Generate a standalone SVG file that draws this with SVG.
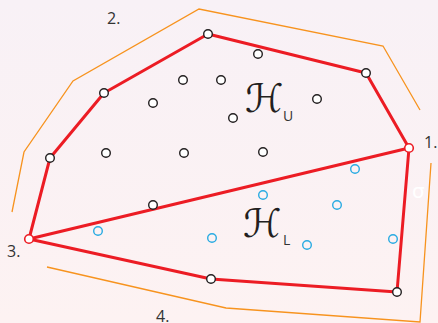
<svg xmlns="http://www.w3.org/2000/svg" width="438" height="323" viewBox="0 0 438 323">
<defs>
<linearGradient id="bg" x1="0" y1="0" x2="0" y2="1">
<stop offset="0" stop-color="#f8f1f6"/>
<stop offset="1" stop-color="#fdf2f2"/>
</linearGradient>
<style>
.hull{fill:none;stroke:#ec1c24;stroke-width:3;stroke-linejoin:round}
.orange{fill:none;stroke:#f7931e;stroke-width:1.3}
.pt{fill:#fff;stroke:#231f20;stroke-width:1.4}
.rpt{fill:#fff;stroke:#ec1c24;stroke-width:1.6}
.bpt{fill:none;stroke:#29abe2;stroke-width:1.4}
.lbl{font-family:"Open Sans","DejaVu Sans",sans-serif;font-size:16px;fill:#333}
.cal{font-family:"DejaVu Sans",sans-serif;font-size:39px;fill:#231f20}
.sub{font-family:"Open Sans","DejaVu Sans",sans-serif;font-size:14px;fill:#333}
</style>
</defs>
<rect width="438" height="323" fill="url(#bg)"/>
<g id="connectors">
<polyline class="orange" points="12,212 24,152 73,81 199,9 383,46 420,110"/>
<polyline class="orange" points="47,267 226,308 420,322 431,163"/>
<polygon class="hull" points="208,34 366,73 409,148 397,292 211,279 29,239 50,158 104,93"/>
<line class="hull" x1="29" y1="239" x2="409" y2="148"/>
</g>
<g id="hull-points">
<circle class="pt" cx="208" cy="34" r="4.3"/>
<circle class="pt" cx="366" cy="73" r="4.3"/>
<circle class="rpt" cx="409" cy="148" r="4.3"/>
<circle class="pt" cx="397" cy="292" r="4.3"/>
<circle class="pt" cx="211" cy="279" r="4.3"/>
<circle class="rpt" cx="29" cy="239" r="4.3"/>
<circle class="pt" cx="50" cy="158" r="4.3"/>
<circle class="pt" cx="104" cy="93" r="4.3"/>
</g>
<g id="upper-points">
<circle class="pt" cx="258" cy="54" r="4.3"/>
<circle class="pt" cx="183" cy="80" r="4.3"/>
<circle class="pt" cx="221" cy="80" r="4.3"/>
<circle class="pt" cx="153" cy="103" r="4.3"/>
<circle class="pt" cx="317" cy="99" r="4.3"/>
<circle class="pt" cx="233" cy="118" r="4.3"/>
<circle class="pt" cx="106" cy="153" r="4.3"/>
<circle class="pt" cx="184" cy="153" r="4.3"/>
<circle class="pt" cx="263" cy="152" r="4.3"/>
<circle class="pt" cx="153" cy="205" r="4.3"/>
</g>
<g id="lower-points">
<circle class="bpt" cx="355" cy="169" r="4.3"/>
<circle class="bpt" cx="263" cy="195" r="4.3"/>
<circle class="bpt" cx="337" cy="205" r="4.3"/>
<circle class="bpt" cx="98" cy="231" r="4.3"/>
<circle class="bpt" cx="212" cy="238" r="4.3"/>
<circle class="bpt" cx="307" cy="245" r="4.3"/>
<circle class="bpt" cx="393" cy="239" r="4.3"/>
</g>
<g id="HU">
<text class="cal" x="245" y="112">ℋ<tspan class="sub" x="283" y="121">U</tspan></text>
</g>
<g id="HL">
<text class="cal" x="243" y="237">ℋ<tspan class="sub" x="283" y="245">L</tspan></text>
</g>
<g id="labels">
<text class="lbl" x="107" y="24">2.</text>
<text class="lbl" x="424" y="148">1.</text>
<text class="lbl" x="7" y="257">3.</text>
<text class="lbl" x="156" y="322">4.</text>
<text x="412" y="198" style="font-family:'DejaVu Sans',sans-serif;font-size:20px;fill:#fff">σ</text>
</g>
</svg>
